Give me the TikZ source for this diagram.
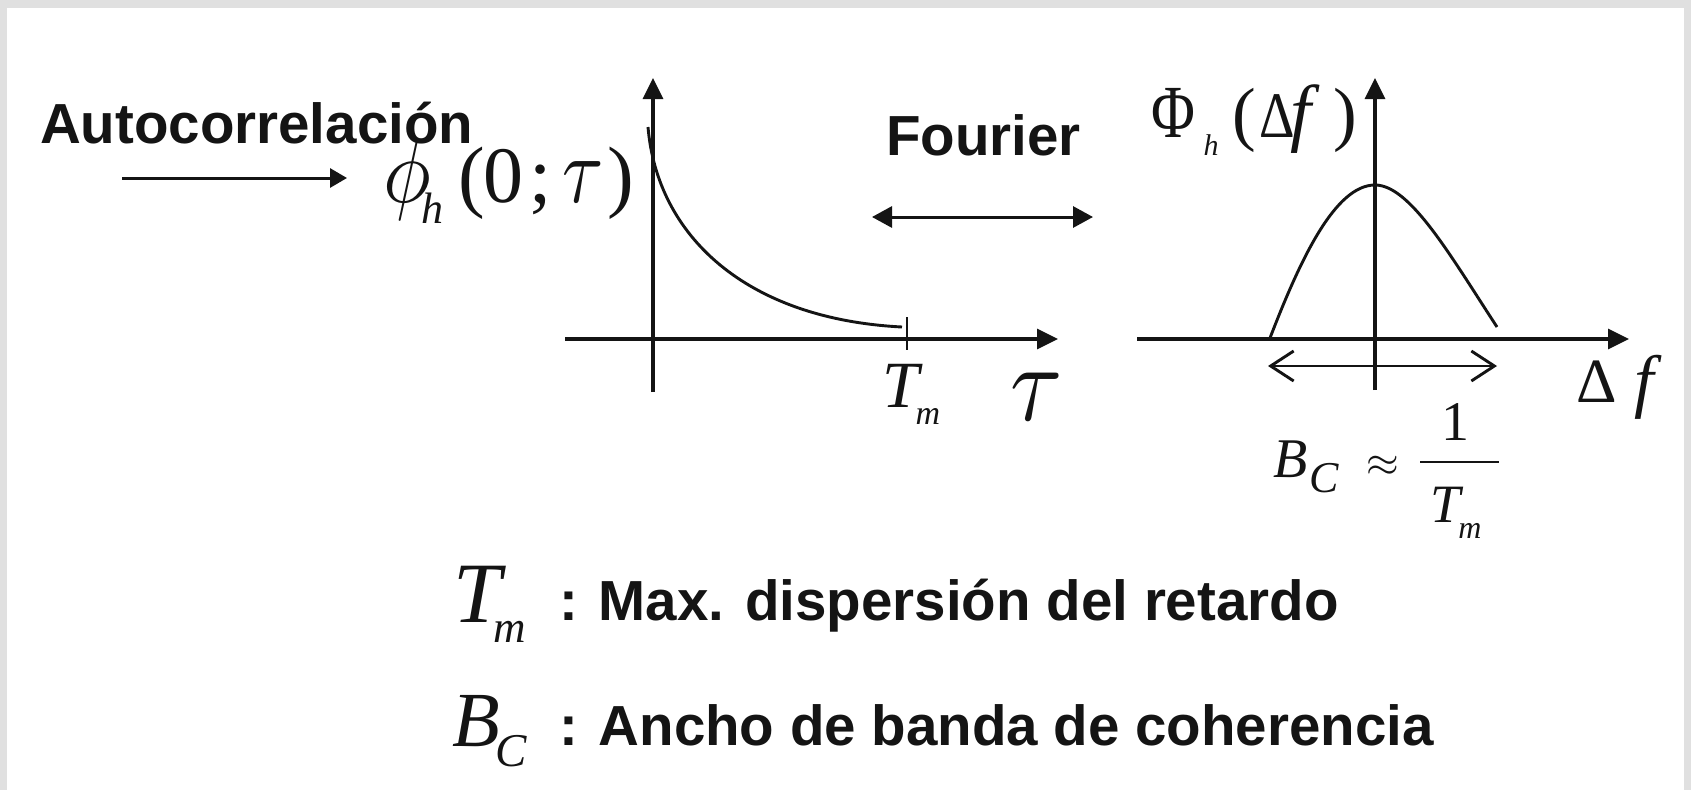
\documentclass[tikz,border=0pt]{standalone}
\usepackage{graphicx}
\usepackage{fontspec}
\setmainfont{Liberation Serif}
\newfontfamily\arialf{Liberation Sans}
\usetikzlibrary{arrows.meta}
\definecolor{frame}{RGB}{224,224,224}
\definecolor{ink}{RGB}{20,20,20}
\newcommand{\fs}[1]{\fontsize{#1}{#1}\selectfont}
\begin{document}
\begin{tikzpicture}[x=1pt,y=-1pt,
  gl/.style={inner sep=0pt,outer sep=0pt,anchor=base,text=ink},
  txt/.style={inner sep=0pt,outer sep=0pt,anchor=base west,text=ink,font=\arialf\bfseries\fs{56.5}},
  axisline/.style={line width=3.3pt,draw=ink,-{Triangle[length=21pt,width=20pt]}},
  curveline/.style={line width=2.9pt,draw=ink},
  inarrow/.style={line width=3pt,draw=ink,-{Triangle[length=17pt,width=19pt]}},
  fourarrow/.style={line width=3pt,draw=ink,{Triangle[length=20pt,width=21pt]}-{Triangle[length=20pt,width=21pt]}},
  bwarrow/.style={line width=2.9pt,draw=ink,{Straight Barb[length=23pt,width=30pt]}-{Straight Barb[length=23pt,width=30pt]}}]
% background / frame
\fill[frame] (0,0) rectangle (1691,790);
\fill[white] (7,8) rectangle (1684,790);
\useasboundingbox (0,0) rectangle (1691,790);

% top texts
\node[txt] (auto) at (40,143) {Autocorrelación};
\node[txt] (four) at (886,155) {Fourier};

% input arrow
\coordinate (inA) at (122,178);
\coordinate (inB) at (347,178);
\draw[inarrow] (inA) -- (inB);

% left label phi_h(0;tau)
\node[gl] (phi) at (407,202) {\scalebox{8}[9.2]{$\phi$}};
\node[gl,font=\itshape\fs{44}] (phih) at (432,223) {h};
\node[gl,font=\fs{80}] (lp1) at (472,202) {(};
\node[gl,font=\fs{80}] (zero) at (503,202) {0};
\node[gl,font=\fs{80}] (semi) at (541,202) {;};
\node[gl] (tau1) at (583,202) {\scalebox{7.5}[9.5]{$\tau$}};
\node[gl,font=\fs{80}] (rp1) at (621,202) {)};

% left plot
\coordinate (Lbot) at (653,392);
\coordinate (Ltop) at (653,78);
\coordinate (Lleft) at (565,339);
\coordinate (Lright) at (1058,339);
\draw[axisline] (Lbot) -- (Ltop);
\draw[axisline] (Lleft) -- (Lright);
\coordinate (tickA) at (907,317);
\coordinate (tickB) at (907,350);
\draw[curveline] (tickA) -- (tickB);
\coordinate (c0) at (648,127);
\coordinate (c1) at (902,327);
\draw[curveline] (c0) .. controls (657,235) and (745,319) .. (c1);
\node[gl,font=\itshape\fs{66}] (Tm1) at (901,407) {T};
\node[gl,font=\itshape\fs{34}] (Tm1m) at (928,424) {m};
\node[gl] (tau2) at (1037,420) {\scalebox{9.5}[11]{$\tau$}};

% Fourier arrow
\coordinate (fA) at (872,217);
\coordinate (fB) at (1093,217);
\draw[fourarrow] (fA) -- (fB);

% right label Phi_h(Delta f)
\node[gl] (Phi) at (1173,137) {\fs{75}\scalebox{0.8}[1]{Φ}};
\node[gl,font=\itshape\fs{30}] (Phih) at (1211,155) {h};
\node[gl,font=\fs{71}] (lp2) at (1244,137) {(};
\node[gl] (Del1) at (1277,137) {\fs{65}\scalebox{0.85}[1]{Δ}};
\node[gl,font=\itshape\fs{75}] (f1) at (1301,137) {f};
\node[gl,font=\fs{71}] (rp2) at (1345,137) {)};

% right plot
\coordinate (Rbot) at (1375,390);
\coordinate (Rtop) at (1375,78);
\coordinate (Rleft) at (1137,339);
\coordinate (Rright) at (1629,339);
\draw[axisline] (Rbot) -- (Rtop);
\draw[axisline] (Rleft) -- (Rright);
\coordinate (b0) at (1270,338);
\coordinate (bp) at (1375,185);
\coordinate (b1) at (1497,327);
\draw[curveline] (b0) .. controls (1300,260) and (1335,185) .. (bp)
                      .. controls (1410,185) and (1450,255) .. (b1);
\coordinate (wA) at (1268,366);
\coordinate (wB) at (1497,366);
\draw[bwarrow] (wA) -- (wB);
\node[gl,font=\fs{63}] (Del2) at (1597,402) {Δ};
\node[gl,font=\itshape\fs{70}] (f2) at (1644,404) {f};

% B_C ~ 1/T_m
\node[gl,font=\itshape\fs{56}] (B1) at (1291,477) {B};
\node[gl,font=\itshape\fs{44}] (C1) at (1324,492) {C};
\node[inner sep=0pt,anchor=center,text=ink] (approx) at (1383,466) {\scalebox{4.2}{$\approx$}};
\node[gl,font=\fs{56}] (one) at (1455,440) {1};
\coordinate (barL) at (1420,462);
\coordinate (barR) at (1499,462);
\draw[line width=2.2pt,draw=ink] (barL) -- (barR);
\node[gl,font=\itshape\fs{54}] (T2) at (1445,522) {T};
\node[gl,font=\itshape\fs{32}] (m2) at (1470,538) {m};

% legend rows
\node[gl,font=\itshape\fs{86}] (T3) at (477,622) {T};
\node[gl,font=\itshape\fs{45}] (m3) at (510,642) {m};
\node[txt] (d1) at (559,620) {: Max. dispersión del retardo};
\node[gl,font=\itshape\fs{78}] (B3) at (476,746) {B};
\node[gl,font=\itshape\fs{47}] (C3) at (511,766) {C};
\node[txt] (d2) at (559,745) {: Ancho de banda de coherencia};
\end{tikzpicture}
\end{document}
